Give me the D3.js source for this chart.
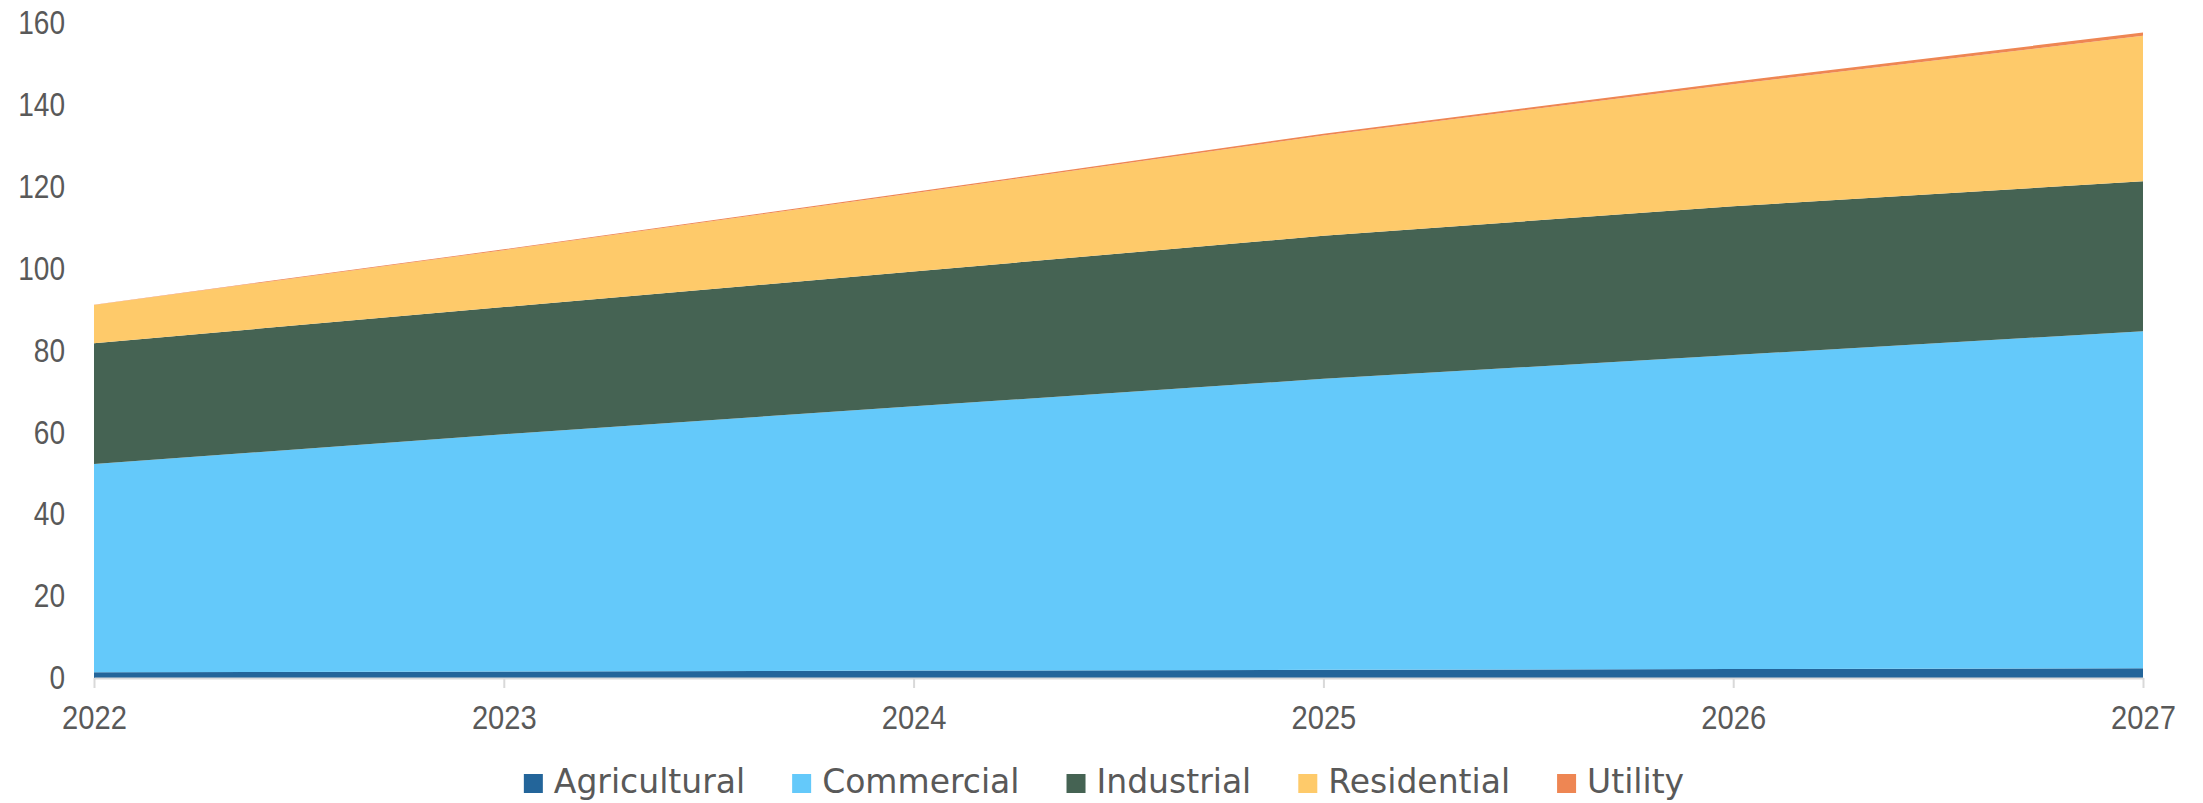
<!DOCTYPE html>
<html>
<head>
<meta charset="utf-8">
<script src="https://cdn.jsdelivr.net/npm/d3@7/dist/d3.min.js"></script>
<style>
  html, body { margin: 0; padding: 0; background: #ffffff; }
  svg { display: block; }
  .axis-label { font-family: "Liberation Sans", Arial, sans-serif; font-size: 34px; fill: #595959; }
  .legend-label { font-family: "DejaVu Sans", sans-serif; font-size: 33px; fill: #595959; }
</style>
</head>
<body>
<svg id="chart" width="2203" height="803"></svg>
<script>
// ---- Data ----
const years = [2022, 2023, 2024, 2025, 2026, 2027];
const agricultural = [1.4, 1.6, 1.8, 2.0, 2.2, 2.4];
const commercial   = [50.8, 57.9, 64.5, 71.0, 76.6, 82.2];
const industrial   = [29.5, 31.0, 32.9, 34.9, 36.3, 36.6];
const residential  = [9.3, 13.9, 19.1, 24.5, 29.8, 35.5];
const utility      = [0.1, 0.2, 0.3, 0.4, 0.6, 0.8];
const seriesNames  = ["Agricultural", "Commercial", "Industrial", "Residential", "Utility"];
const seriesColors = ["#23659A", "#64C9FA", "#456353", "#FECA6A", "#EE8653"];
const yTicks = [0, 20, 40, 60, 80, 100, 120, 140, 160];

// ---- Build table ----
const seriesValues = [agricultural, commercial, industrial, residential, utility];
const table = years.map((yr, i) => {
  const row = { year: yr };
  seriesNames.forEach((n, k) => row[n] = seriesValues[k][i]);
  return row;
});

const svg = d3.select("#chart");

const x = d3.scaleLinear().domain([years[0], years[years.length - 1]]).range([94, 2143]);
const y = d3.scaleLinear().domain([0, 160]).range([678, 22.3]);

const stacked = d3.stack().keys(seriesNames)(table);

const area = d3.area()
  .x(d => x(d.data.year))
  .y0(d => y(d[0]))
  .y1(d => y(d[1]))
  .curve(d3.curveLinear);

svg.append("g").selectAll("path")
  .data(stacked)
  .join("path")
  .attr("d", area)
  .attr("fill", (d, i) => seriesColors[i]);

const digitW = 16.2;

// X axis
const xAxis = d3.axisBottom(x)
  .tickValues(years)
  .tickFormat(d3.format("d"))
  .tickSizeInner(10)
  .tickSizeOuter(0)
  .tickPadding(17);
const gx = svg.append("g").attr("transform", `translate(0,${y(0)})`).call(xAxis);
gx.select(".domain").attr("stroke", "#d9d9d9").attr("stroke-width", 2);
gx.selectAll(".tick line").attr("stroke", "#d9d9d9").attr("stroke-width", 2);
gx.selectAll(".tick text").attr("class", "axis-label").attr("fill", "#595959")
  .attr("dy", "0.71em")
  .attr("textLength", function () { return this.textContent.length * digitW; })
  .attr("lengthAdjust", "spacingAndGlyphs");

// Y axis (labels only)
const yAxis = d3.axisLeft(y)
  .tickValues(yTicks)
  .tickFormat(d3.format("d"))
  .tickSize(0)
  .tickPadding(29);
const gy = svg.append("g").attr("transform", `translate(94,0)`).call(yAxis);
gy.select(".domain").remove();
gy.selectAll(".tick text").attr("class", "axis-label").attr("fill", "#595959")
  .attr("textLength", function () { return this.textContent.length * 15.6; })
  .attr("lengthAdjust", "spacingAndGlyphs");

// Legend
const legend = svg.append("g");
const items = legend.selectAll("g").data(seriesNames).join("g");
items.append("rect")
  .attr("width", 19).attr("height", 19)
  .attr("y", 774)
  .attr("fill", (d, i) => seriesColors[i]);
items.append("text")
  .attr("class", "legend-label")
  .attr("y", 793)
  .text(d => d);
let cursor = 0;
const gapSq = 11, gapItem = 47;
items.each(function () {
  const g = d3.select(this);
  const tw = g.select("text").node().getComputedTextLength();
  g.select("rect").attr("x", cursor);
  g.select("text").attr("x", cursor + 19 + gapSq);
  cursor += 19 + gapSq + tw + gapItem;
});
const total = cursor - gapItem;
legend.attr("transform", `translate(${1104 - total / 2},0)`);
</script>
</body>
</html>
